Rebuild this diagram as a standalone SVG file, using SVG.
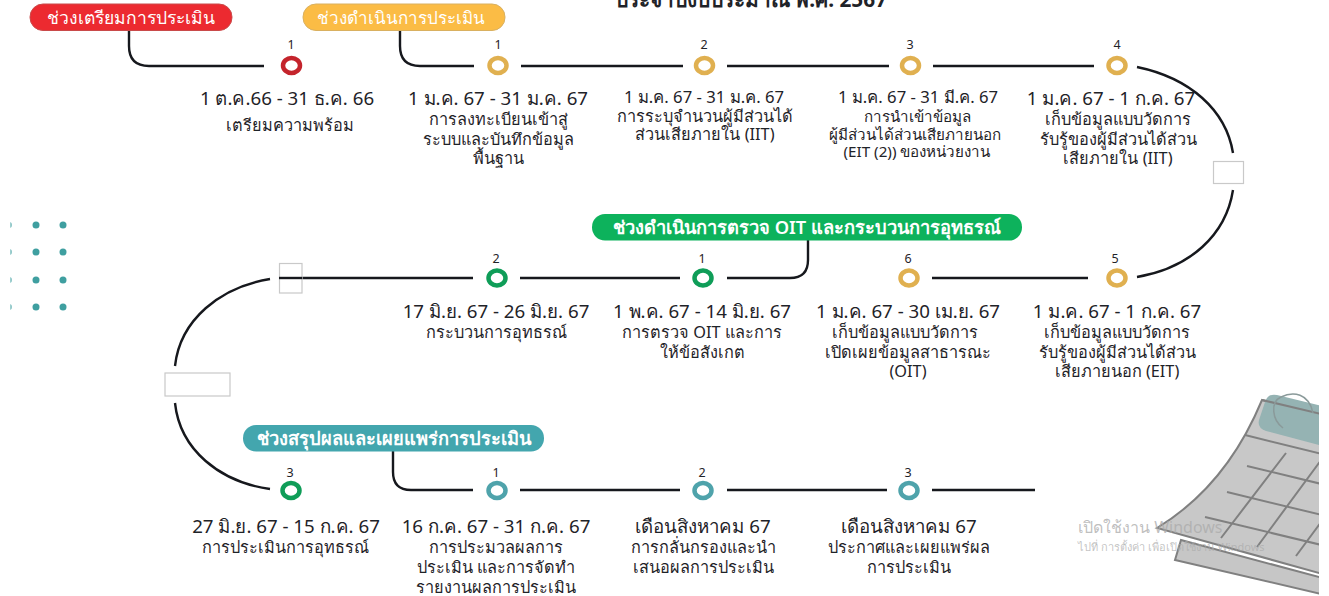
<svg xmlns="http://www.w3.org/2000/svg" width="1329" height="596" viewBox="0 0 1329 596">
<style>
text{font-family:"Noto Sans","Open Sans","DejaVu Sans",sans-serif;fill:#1f2328;text-anchor:middle}
.d{font-size:18.700px}
.s{font-size:16.700px}
.t{font-size:16.300px}
.u{font-size:15.200px}
.n{font-size:12.500px}
.p{font-size:17.500px;fill:#fff;font-weight:500}
.q{font-size:18.300px;fill:#fff;font-weight:600}
.l{fill:none;stroke:#16181d;stroke-width:2.4}
.r{fill:#fff;stroke-width:4.5}
.box{fill:#fff;stroke:#c9c9c9;stroke-width:1.2}
.dot{fill:#3f9fa0}
.g{stroke:#808080;stroke-width:2;fill:none}
</style>
<defs><clipPath id="cal"><rect x="1100" y="380" width="219" height="216"/></clipPath></defs>
<rect width="1329" height="596" fill="#fff"/>
<g id="dots">
<path class="dot" d="M10.500 222v6a3 3 0 0 0 1-3 3 3 0 0 0-1-3zM10.500 249v6a3 3 0 0 0 1-3 3 3 0 0 0-1-3zM10.500 277v6a3 3 0 0 0 1-3 3 3 0 0 0-1-3zM10.500 304v6a3 3 0 0 0 1-3 3 3 0 0 0-1-3z"/>
<circle class="dot" cx="36" cy="225" r="3.500"/><circle class="dot" cx="63" cy="225" r="3.500"/>
<circle class="dot" cx="36" cy="252" r="3.500"/><circle class="dot" cx="63" cy="252" r="3.500"/>
<circle class="dot" cx="36" cy="280" r="3.500"/><circle class="dot" cx="63" cy="280" r="3.500"/>
<circle class="dot" cx="36" cy="307" r="3.500"/><circle class="dot" cx="63" cy="307" r="3.500"/>
</g>
<g id="calendar" clip-path="url(#cal)">
<path d="M1181 540L1330 580V596L1175 560Z" fill="#c6c6c6" stroke="#808080" stroke-width="2"/>
<path d="M1262 400L1330 416V576L1157 528C1195 505 1235 465 1262 400Z" fill="#c8c8c8" stroke="#808080" stroke-width="2"/>
<path d="M1277 395L1330 408V448L1266 431Q1257 428 1259 420L1265 402Q1268 393 1277 395Z" fill="#95b3b3"/>
<path class="g" d="M1245 435L1330 456M1247 466L1330 486M1227 492L1330 517M1205 517L1330 547M1286 453L1221 538M1330 448L1257 547M1330 510L1296 556M1262 400L1330 416"/>
<path d="M1283 428C1272 420 1270 402 1281 397C1293 391 1309 393 1313 413" fill="none" stroke="#8a9a9a" stroke-width="1.500"/>
</g>
<g id="connectors">
<path class="l" d="M129 30V46Q129 66 149 66H264"/>
<path class="l" d="M400 30V46Q400 66 420 66H474"/>
<path class="l" d="M521 66H683M727 66H889M933 66H1094"/>
<path class="l" d="M1137 67C1190 78 1226 110 1233 153"/>
<path class="l" d="M1233 190C1226 235 1190 268 1137 277"/>
<path class="l" d="M932 278H1088M727 278H790Q808 278 808 260V240M520 278H680M302 278H473"/>
<path class="l" d="M270 279C220 287 180 320 175 366"/>
<path class="l" d="M175 403C180 450 220 482 270 489"/>
<path class="l" d="M393 451V472Q393 490 411 490H473M520 490H680M727 490H887M932 490H1035"/>
</g>
<g id="boxes">
<rect class="box" x="1213.500" y="161.500" width="30" height="22"/>
<rect class="box" x="279.500" y="263.500" width="22.500" height="29.500"/>
<path class="l" d="M279 278H302"/>
<rect class="box" x="165" y="373" width="65" height="23"/>
</g>
<g id="title"><text x="751" y="7" style="font-size:20.800px;font-weight:700">ประจำปีงบประมาณ พ.ศ. 2567</text></g>
<g id="pill-prep"><rect x="30" y="4" width="202" height="26.500" rx="13" fill="#ec2a30" stroke="#c94a4a"/><text class="p" x="131" y="24">ช่วงเตรียมการประเมิน</text></g>
<g id="pill-run"><rect x="303" y="4" width="202" height="26.500" rx="13" fill="#fbbc45" stroke="#d9b060"/><text class="p" x="401" y="24" style="font-size:17px">ช่วงดำเนินการประเมิน</text></g>
<g id="pill-oit"><rect x="592" y="214" width="430" height="26.500" rx="13" fill="#0db25c"/><text class="q" x="807" y="234">ช่วงดำเนินการตรวจ OIT และกระบวนการอุทธรณ์</text></g>
<g id="pill-sum"><rect x="243" y="425" width="301" height="26.500" rx="13" fill="#43a6ae"/><text class="q" x="394" y="445">ช่วงสรุปผลและเผยแพร่การประเมิน</text></g>

<g id="n1"><ellipse class="r" cx="291.500" cy="65.500" rx="8.500" ry="7.500" stroke="#c4242c"/><text class="n" x="291" y="49">1</text><text class="d" x="287" y="105">1 ต.ค.66 - 31 ธ.ค. 66</text><text class="t" x="290" y="131">เตรียมความพร้อม</text></g>
<g id="n2"><ellipse class="r" cx="498" cy="65.500" rx="8.500" ry="7.500" stroke="#e0b050"/><text class="n" x="498" y="49">1</text><text class="d" x="498" y="105">1 ม.ค. 67 - 31 ม.ค. 67</text><text class="t" x="498" y="125">การลงทะเบียนเข้าสู่</text><text class="t" x="498" y="145">ระบบและบันทึกข้อมูล</text><text class="t" x="498" y="164">พื้นฐาน</text></g>
<g id="n3"><ellipse class="r" cx="704.500" cy="65.500" rx="8.500" ry="7.500" stroke="#e0b050"/><text class="n" x="704" y="49">2</text><text class="s" x="704" y="103">1 ม.ค. 67 - 31 ม.ค. 67</text><text class="t" x="705" y="122">การระบุจำนวนผู้มีส่วนได้</text><text class="t" x="705" y="140">ส่วนเสียภายใน (IIT)</text></g>
<g id="n4"><ellipse class="r" cx="910.500" cy="65.500" rx="8.500" ry="7.500" stroke="#e0b050"/><text class="n" x="910" y="49">3</text><text class="s" x="918" y="103">1 ม.ค. 67 - 31 มี.ค. 67</text><text class="u" x="917" y="122">การนำเข้าข้อมูล</text><text class="u" x="915" y="140">ผู้มีส่วนได้ส่วนเสียภายนอก</text><text class="u" x="917" y="157">(EIT (2)) ของหน่วยงาน</text></g>
<g id="n5"><ellipse class="r" cx="1117" cy="65.500" rx="8.500" ry="7.500" stroke="#e0b050"/><text class="n" x="1117" y="49">4</text><text class="d" x="1111" y="105">1 ม.ค. 67 - 1 ก.ค. 67</text><text class="t" x="1118" y="125">เก็บข้อมูลแบบวัดการ</text><text class="t" x="1118" y="145">รับรู้ของผู้มีส่วนได้ส่วน</text><text class="t" x="1118" y="164">เสียภายใน (IIT)</text></g>

<g id="n6"><ellipse class="r" cx="1117" cy="278" rx="8.500" ry="7.500" stroke="#e0b050"/><text class="n" x="1115" y="263">5</text><text class="d" x="1117" y="318">1 ม.ค. 67 - 1 ก.ค. 67</text><text class="t" x="1117" y="338">เก็บข้อมูลแบบวัดการ</text><text class="t" x="1117" y="358">รับรู้ของผู้มีส่วนได้ส่วน</text><text class="t" x="1117" y="377">เสียภายนอก (EIT)</text></g>
<g id="n7"><ellipse class="r" cx="909" cy="278" rx="8.500" ry="7.500" stroke="#e0b050"/><text class="n" x="908" y="263">6</text><text class="d" x="908" y="318">1 ม.ค. 67 - 30 เม.ย. 67</text><text class="t" x="905" y="338">เก็บข้อมูลแบบวัดการ</text><text class="t" x="908" y="358">เปิดเผยข้อมูลสาธารณะ</text><text class="t" x="908" y="377">(OIT)</text></g>
<g id="n8"><ellipse class="r" cx="703" cy="278" rx="8.500" ry="7.500" stroke="#0f9d58"/><text class="n" x="702" y="263">1</text><text class="d" x="702" y="318">1 พ.ค. 67 - 14 มิ.ย. 67</text><text class="t" x="702" y="338">การตรวจ OIT และการ</text><text class="t" x="702" y="358">ให้ข้อสังเกต</text></g>
<g id="n9"><ellipse class="r" cx="497" cy="278" rx="8.500" ry="7.500" stroke="#0f9d58"/><text class="n" x="496" y="263">2</text><text class="d" x="496" y="318">17 มิ.ย. 67 - 26 มิ.ย. 67</text><text class="t" x="496" y="338">กระบวนการอุทธรณ์</text></g>

<g id="n10"><ellipse class="r" cx="291" cy="490.500" rx="8.500" ry="7.500" stroke="#0f9d58"/><text class="n" x="290" y="477">3</text><text class="d" x="286" y="533">27 มิ.ย. 67 - 15 ก.ค. 67</text><text class="t" x="285" y="553">การประเมินการอุทธรณ์</text></g>
<g id="n11"><ellipse class="r" cx="497" cy="490.500" rx="8.500" ry="7.500" stroke="#4fa3ab"/><text class="n" x="496" y="477">1</text><text class="d" x="496" y="533">16 ก.ค. 67 - 31 ก.ค. 67</text><text class="t" x="496" y="553">การประมวลผลการ</text><text class="t" x="496" y="573">ประเมิน และการจัดทำ</text><text class="t" x="496" y="593">รายงานผลการประเมิน</text></g>
<g id="n12"><ellipse class="r" cx="703" cy="490.500" rx="8.500" ry="7.500" stroke="#4fa3ab"/><text class="n" x="702" y="477">2</text><text class="d" x="703" y="533">เดือนสิงหาคม 67</text><text class="t" x="703" y="553">การกลั่นกรองและนำ</text><text class="t" x="703" y="573">เสนอผลการประเมิน</text></g>
<g id="n13"><ellipse class="r" cx="909" cy="490.500" rx="8.500" ry="7.500" stroke="#4fa3ab"/><text class="n" x="908" y="477">3</text><text class="d" x="909" y="533">เดือนสิงหาคม 67</text><text class="t" x="909" y="553">ประกาศและเผยแพร่ผล</text><text class="t" x="909" y="573">การประเมิน</text></g>
<g id="watermark"><text x="1078" y="533" style="font-size:16px;fill:#aaa;fill-opacity:.75;text-anchor:start">เปิดใช้งาน Windows</text><text x="1078" y="551" style="font-size:11px;fill:#aaa;fill-opacity:.7;text-anchor:start">ไปที่ การตั้งค่า เพื่อเปิดใช้งาน Windows</text></g>
</svg>
